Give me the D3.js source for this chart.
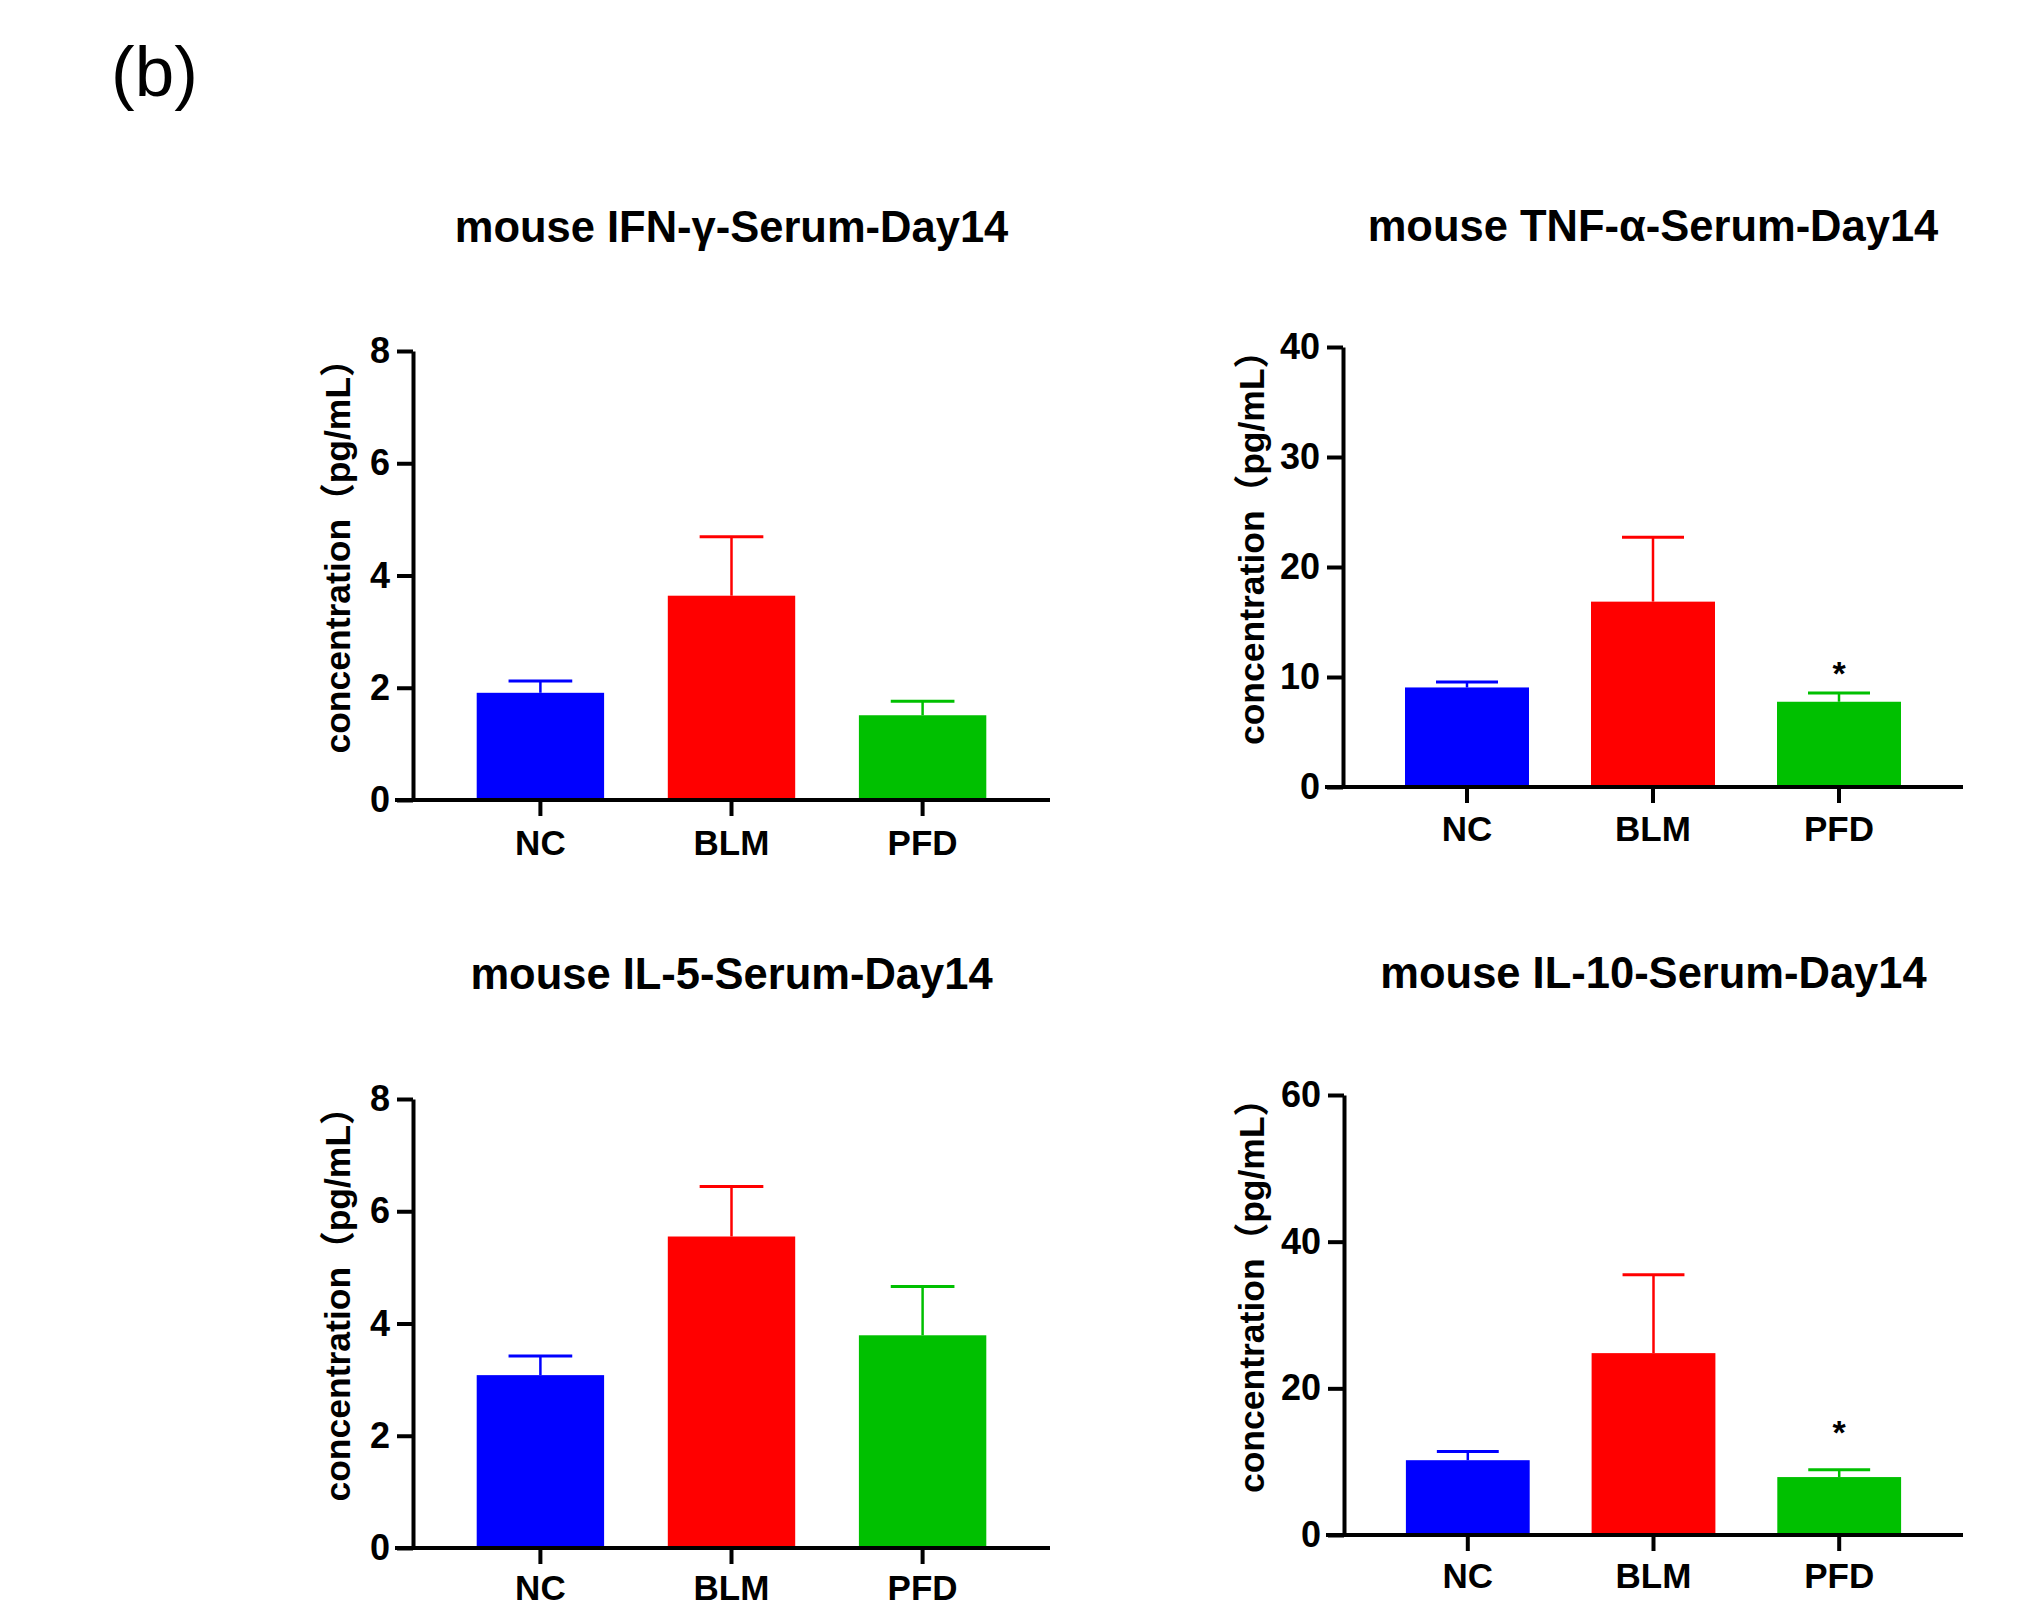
<!DOCTYPE html>
<html>
<head>
<meta charset="utf-8">
<script src="https://cdn.jsdelivr.net/npm/d3@7"></script>
<style>
body{margin:0;background:#fff;}
text{font-family:"Liberation Sans",Arial,"Noto Sans CJK SC",sans-serif;}
</style>
</head>
<body>
<svg width="2034" height="1607"></svg>
<script>
const svg=d3.select('svg');

// data
const groups=['NC','BLM','PFD'];
const barColors=['#0000ff','#ff0000','#00c000'];
const titles=['mouse IFN-γ-Serum-Day14','mouse TNF-α-Serum-Day14','mouse IL-5-Serum-Day14','mouse IL-10-Serum-Day14'];

const ifnMean=[1.91,3.64,1.51];
const ifnSD=[0.21,1.05,0.25];
const tnfMean=[9.05,16.85,7.75];
const tnfSD=[0.5,5.85,0.8];
const il5Mean=[3.08,5.55,3.79];
const il5SD=[0.34,0.89,0.87];
const il10Mean=[10.2,24.8,7.9];
const il10SD=[1.2,10.7,1.0];

const ifnTicks=[0,2,4,6,8];
const tnfTicks=[0,10,20,30,40];
const il5Ticks=[0,2,4,6,8];
const il10Ticks=[0,20,40,60];

const ifnMarks=['','',''];
const tnfMarks=['','','*'];
const il5Marks=['','',''];
const il10Marks=['','','*'];

const yLabel='concentration（pg/mL）';

// layout of the four panels (pixels)
const panels=[
  {mean:ifnMean,sd:ifnSD,ticks:ifnTicks,marks:ifnMarks,title:titles[0],
   left:413,right:1050,top:351,bottom:800,titleY:242,labelX:338,starGap:8,xPad:14},
  {mean:tnfMean,sd:tnfSD,ticks:tnfTicks,marks:tnfMarks,title:titles[1],
   left:1343,right:1963,top:347,bottom:787,titleY:241,labelX:1252,starGap:8,xPad:13},
  {mean:il5Mean,sd:il5SD,ticks:il5Ticks,marks:il5Marks,title:titles[2],
   left:413,right:1050,top:1099,bottom:1548,titleY:989,labelX:338,starGap:8,xPad:11},
  {mean:il10Mean,sd:il10SD,ticks:il10Ticks,marks:il10Marks,title:titles[3],
   left:1344,right:1963,top:1095,bottom:1535,titleY:988,labelX:1252,starGap:26,xPad:12}
];

// panel letter
svg.append('text')
  .attr('x',111).attr('y',96)
  .attr('font-size',71)
  .text('(b)');

const drawPanel=(p)=>{
  const g=svg.append('g');
  const x=d3.scaleBand()
    .domain(groups)
    .range([p.left,p.right])
    .paddingInner(1/3)
    .paddingOuter(1/3);
  const y=d3.scaleLinear()
    .domain([0,d3.max(p.ticks)])
    .range([p.bottom,p.top]);
  const bw=x.bandwidth();
  const rows=groups.map((k,i)=>({k,m:p.mean[i],s:p.sd[i],c:barColors[i],mark:p.marks[i]}));

  // bars
  g.selectAll('rect.bar').data(rows).enter().append('rect')
    .attr('class','bar')
    .attr('x',d=>x(d.k))
    .attr('y',d=>y(d.m))
    .attr('width',bw)
    .attr('height',d=>y(0)-y(d.m))
    .attr('fill',d=>d.c);

  // error bars (upper only)
  const eb=g.selectAll('g.err').data(rows).enter().append('g').attr('class','err')
    .attr('stroke',d=>d.c).attr('stroke-width',2.5);
  eb.append('line')
    .attr('x1',d=>x(d.k)+bw/2).attr('x2',d=>x(d.k)+bw/2)
    .attr('y1',d=>y(d.m)).attr('y2',d=>y(d.m+d.s));
  eb.append('line')
    .attr('x1',d=>x(d.k)+bw/4).attr('x2',d=>x(d.k)+bw*3/4)
    .attr('y1',d=>y(d.m+d.s)).attr('y2',d=>y(d.m+d.s))
    .attr('stroke-width',3);

  // significance marks
  g.selectAll('text.star').data(rows.filter(d=>d.mark)).enter().append('text')
    .attr('class','star')
    .attr('x',d=>x(d.k)+bw/2)
    .attr('y',d=>y(d.m+d.s)-p.starGap)
    .attr('text-anchor','middle')
    .attr('font-size',34)
    .attr('font-weight','bold')
    .text(d=>d.mark);

  // y axis
  const yAxis=d3.axisLeft(y).tickValues(p.ticks).tickSize(16).tickSizeOuter(0).tickPadding(7);
  const ya=g.append('g').attr('transform',`translate(${p.left},0)`).call(yAxis);
  ya.select('.domain').attr('stroke-width',4).attr('stroke','#000');
  ya.selectAll('.tick line').attr('stroke-width',4);
  ya.selectAll('.tick text').attr('font-size',36).attr('font-weight','bold').attr('fill','#000');

  // x axis
  const xAxis=d3.axisBottom(x).tickSize(16).tickSizeOuter(0).tickPadding(p.xPad);
  const xa=g.append('g').attr('transform',`translate(0,${p.bottom})`).call(xAxis);
  xa.select('.domain').remove();
  xa.append('line')
    .attr('x1',x.range()[0]-18).attr('x2',x.range()[1])
    .attr('stroke','#000').attr('stroke-width',4);
  xa.selectAll('.tick line').attr('stroke-width',4);
  xa.selectAll('.tick text').attr('font-size',35).attr('font-weight','bold').attr('fill','#000');

  // title
  g.append('text')
    .attr('x',(p.left+p.right)/2)
    .attr('y',p.titleY)
    .attr('text-anchor','middle')
    .attr('font-size',43.5)
    .attr('font-weight','bold')
    .text(p.title);

  // y label
  g.append('text')
    .attr('transform',`translate(${p.labelX+12},${(p.top+p.bottom)/2-28})rotate(-90)`)
    .attr('text-anchor','middle')
    .attr('font-size',35.5)
    .attr('font-weight','bold')
    .text(yLabel);
};

panels.forEach(drawPanel);
</script>
</body>
</html>
